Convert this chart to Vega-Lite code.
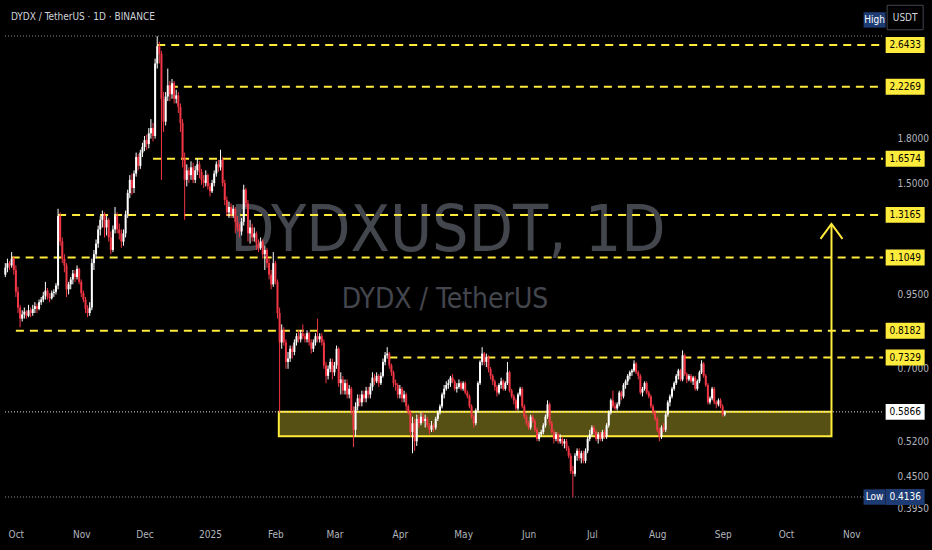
{
  "$schema": "https://vega.github.io/schema/vega-lite/v6.json",
  "width": 888,
  "height": 515,
  "autosize": {"type": "none"},
  "padding": {"left": 0, "top": 0, "right": 44, "bottom": 35},
  "background": "#000000",
  "config": {
    "view": {"stroke": null},
    "font": "Liberation Sans Narrow, DejaVu Sans Condensed, Roboto, sans-serif",
    "axis": {"grid": false, "domain": false, "ticks": false, "labelColor": "#b2b5be", "labelFontSize": 10, "title": null}
  },
  "datasets": {
    "candles": [
      {"date":"2024-09-26","open":1.03,"high":1.08,"low":1.02,"close":1.06},
      {"date":"2024-09-27","open":1.06,"high":1.10,"low":1.04,"close":1.08},
      {"date":"2024-09-28","open":1.08,"high":1.09,"low":1.05,"close":1.07},
      {"date":"2024-09-29","open":1.07,"high":1.13,"low":1.06,"close":1.10},
      {"date":"2024-09-30","open":1.10,"high":1.11,"low":1.03,"close":1.05},
      {"date":"2024-10-01","open":1.05,"high":1.07,"low":0.94,"close":0.96},
      {"date":"2024-10-02","open":0.96,"high":0.98,"low":0.88,"close":0.90},
      {"date":"2024-10-03","open":0.90,"high":0.91,"low":0.83,"close":0.86},
      {"date":"2024-10-04","open":0.86,"high":0.89,"low":0.85,"close":0.875},
      {"date":"2024-10-05","open":0.875,"high":0.90,"low":0.86,"close":0.885},
      {"date":"2024-10-06","open":0.885,"high":0.89,"low":0.86,"close":0.87},
      {"date":"2024-10-07","open":0.87,"high":0.91,"low":0.865,"close":0.89},
      {"date":"2024-10-08","open":0.89,"high":0.90,"low":0.865,"close":0.88},
      {"date":"2024-10-09","open":0.88,"high":0.91,"low":0.87,"close":0.895},
      {"date":"2024-10-10","open":0.895,"high":0.92,"low":0.88,"close":0.905},
      {"date":"2024-10-11","open":0.905,"high":0.915,"low":0.88,"close":0.895},
      {"date":"2024-10-12","open":0.895,"high":0.93,"low":0.89,"close":0.92},
      {"date":"2024-10-13","open":0.92,"high":0.94,"low":0.91,"close":0.93},
      {"date":"2024-10-14","open":0.93,"high":0.96,"low":0.92,"close":0.945},
      {"date":"2024-10-15","open":0.945,"high":1.00,"low":0.93,"close":0.965},
      {"date":"2024-10-16","open":0.965,"high":0.975,"low":0.93,"close":0.94},
      {"date":"2024-10-17","open":0.94,"high":0.955,"low":0.92,"close":0.935},
      {"date":"2024-10-18","open":0.935,"high":0.965,"low":0.93,"close":0.955},
      {"date":"2024-10-19","open":0.955,"high":0.97,"low":0.94,"close":0.96},
      {"date":"2024-10-20","open":0.96,"high":0.995,"low":0.95,"close":0.985},
      {"date":"2024-10-21","open":0.985,"high":1.35,"low":0.97,"close":1.31},
      {"date":"2024-10-22","open":1.31,"high":1.33,"low":1.16,"close":1.18},
      {"date":"2024-10-23","open":1.18,"high":1.20,"low":1.08,"close":1.10},
      {"date":"2024-10-24","open":1.10,"high":1.12,"low":1.04,"close":1.07},
      {"date":"2024-10-25","open":1.07,"high":1.08,"low":0.94,"close":0.97},
      {"date":"2024-10-26","open":0.97,"high":1.00,"low":0.95,"close":0.99},
      {"date":"2024-10-27","open":0.99,"high":1.02,"low":0.97,"close":1.01},
      {"date":"2024-10-28","open":1.01,"high":1.05,"low":0.99,"close":1.035},
      {"date":"2024-10-29","open":1.035,"high":1.05,"low":1.00,"close":1.02},
      {"date":"2024-10-30","open":1.02,"high":1.07,"low":1.01,"close":1.055},
      {"date":"2024-10-31","open":1.055,"high":1.06,"low":0.99,"close":1.00},
      {"date":"2024-11-01","open":1.00,"high":1.01,"low":0.94,"close":0.955},
      {"date":"2024-11-02","open":0.955,"high":0.965,"low":0.92,"close":0.93},
      {"date":"2024-11-03","open":0.93,"high":0.94,"low":0.88,"close":0.895},
      {"date":"2024-11-04","open":0.895,"high":0.91,"low":0.865,"close":0.88},
      {"date":"2024-11-05","open":0.88,"high":0.92,"low":0.87,"close":0.90},
      {"date":"2024-11-06","open":0.90,"high":1.10,"low":0.89,"close":1.08},
      {"date":"2024-11-07","open":1.08,"high":1.14,"low":1.05,"close":1.12},
      {"date":"2024-11-08","open":1.12,"high":1.19,"low":1.10,"close":1.17},
      {"date":"2024-11-09","open":1.17,"high":1.26,"low":1.15,"close":1.24},
      {"date":"2024-11-10","open":1.24,"high":1.31,"low":1.21,"close":1.29},
      {"date":"2024-11-11","open":1.29,"high":1.34,"low":1.25,"close":1.32},
      {"date":"2024-11-12","open":1.32,"high":1.33,"low":1.20,"close":1.25},
      {"date":"2024-11-13","open":1.25,"high":1.31,"low":1.21,"close":1.29},
      {"date":"2024-11-14","open":1.29,"high":1.30,"low":1.18,"close":1.20},
      {"date":"2024-11-15","open":1.20,"high":1.23,"low":1.12,"close":1.14},
      {"date":"2024-11-16","open":1.14,"high":1.26,"low":1.13,"close":1.24},
      {"date":"2024-11-17","open":1.24,"high":1.36,"low":1.22,"close":1.31},
      {"date":"2024-11-18","open":1.31,"high":1.33,"low":1.22,"close":1.24},
      {"date":"2024-11-19","open":1.24,"high":1.27,"low":1.19,"close":1.22},
      {"date":"2024-11-20","open":1.22,"high":1.24,"low":1.15,"close":1.18},
      {"date":"2024-11-21","open":1.18,"high":1.24,"low":1.16,"close":1.22},
      {"date":"2024-11-22","open":1.22,"high":1.34,"low":1.20,"close":1.32},
      {"date":"2024-11-23","open":1.32,"high":1.46,"low":1.30,"close":1.44},
      {"date":"2024-11-24","open":1.44,"high":1.55,"low":1.41,"close":1.52},
      {"date":"2024-11-25","open":1.52,"high":1.56,"low":1.43,"close":1.47},
      {"date":"2024-11-26","open":1.47,"high":1.58,"low":1.44,"close":1.56},
      {"date":"2024-11-27","open":1.56,"high":1.70,"low":1.54,"close":1.67},
      {"date":"2024-11-28","open":1.67,"high":1.69,"low":1.58,"close":1.61},
      {"date":"2024-11-29","open":1.61,"high":1.72,"low":1.59,"close":1.70},
      {"date":"2024-11-30","open":1.70,"high":1.77,"low":1.67,"close":1.74},
      {"date":"2024-12-01","open":1.74,"high":1.82,"low":1.71,"close":1.79},
      {"date":"2024-12-02","open":1.79,"high":1.83,"low":1.72,"close":1.76},
      {"date":"2024-12-03","open":1.76,"high":1.88,"low":1.73,"close":1.84},
      {"date":"2024-12-04","open":1.84,"high":1.95,"low":1.80,"close":1.88},
      {"date":"2024-12-05","open":1.88,"high":1.92,"low":1.78,"close":1.82},
      {"date":"2024-12-06","open":1.82,"high":2.50,"low":1.80,"close":2.45},
      {"date":"2024-12-07","open":2.45,"high":2.74,"low":2.40,"close":2.63},
      {"date":"2024-12-08","open":2.63,"high":2.68,"low":2.45,"close":2.55},
      {"date":"2024-12-09","open":2.55,"high":2.58,"low":1.52,"close":2.12},
      {"date":"2024-12-10","open":2.12,"high":2.18,"low":1.85,"close":1.93},
      {"date":"2024-12-11","open":1.93,"high":2.18,"low":1.90,"close":2.14},
      {"date":"2024-12-12","open":2.14,"high":2.40,"low":2.10,"close":2.24},
      {"date":"2024-12-13","open":2.24,"high":2.28,"low":2.10,"close":2.16},
      {"date":"2024-12-14","open":2.16,"high":2.30,"low":2.12,"close":2.26},
      {"date":"2024-12-15","open":2.26,"high":2.28,"low":2.08,"close":2.12},
      {"date":"2024-12-16","open":2.12,"high":2.20,"low":2.08,"close":2.15},
      {"date":"2024-12-17","open":2.15,"high":2.18,"low":2.00,"close":2.05},
      {"date":"2024-12-18","open":2.05,"high":2.08,"low":1.85,"close":1.92},
      {"date":"2024-12-19","open":1.92,"high":1.95,"low":1.60,"close":1.66},
      {"date":"2024-12-20","open":1.66,"high":1.70,"low":1.29,"close":1.52},
      {"date":"2024-12-21","open":1.52,"high":1.62,"low":1.48,"close":1.58},
      {"date":"2024-12-22","open":1.58,"high":1.60,"low":1.50,"close":1.55},
      {"date":"2024-12-23","open":1.55,"high":1.64,"low":1.52,"close":1.60},
      {"date":"2024-12-24","open":1.60,"high":1.63,"low":1.50,"close":1.52},
      {"date":"2024-12-25","open":1.52,"high":1.61,"low":1.50,"close":1.58},
      {"date":"2024-12-26","open":1.58,"high":1.66,"low":1.55,"close":1.62},
      {"date":"2024-12-27","open":1.62,"high":1.64,"low":1.53,"close":1.57},
      {"date":"2024-12-28","open":1.57,"high":1.59,"low":1.49,"close":1.52},
      {"date":"2024-12-29","open":1.52,"high":1.55,"low":1.47,"close":1.50},
      {"date":"2024-12-30","open":1.50,"high":1.58,"low":1.48,"close":1.55},
      {"date":"2024-12-31","open":1.55,"high":1.56,"low":1.46,"close":1.48},
      {"date":"2025-01-01","open":1.48,"high":1.50,"low":1.42,"close":1.45},
      {"date":"2025-01-02","open":1.45,"high":1.52,"low":1.44,"close":1.50},
      {"date":"2025-01-03","open":1.50,"high":1.58,"low":1.48,"close":1.56},
      {"date":"2025-01-04","open":1.56,"high":1.64,"low":1.54,"close":1.62},
      {"date":"2025-01-05","open":1.62,"high":1.65,"low":1.57,"close":1.60},
      {"date":"2025-01-06","open":1.60,"high":1.72,"low":1.58,"close":1.65},
      {"date":"2025-01-07","open":1.65,"high":1.67,"low":1.48,"close":1.50},
      {"date":"2025-01-08","open":1.50,"high":1.52,"low":1.37,"close":1.40},
      {"date":"2025-01-09","open":1.40,"high":1.42,"low":1.31,"close":1.33},
      {"date":"2025-01-10","open":1.33,"high":1.39,"low":1.30,"close":1.36},
      {"date":"2025-01-11","open":1.36,"high":1.38,"low":1.30,"close":1.32},
      {"date":"2025-01-12","open":1.32,"high":1.37,"low":1.30,"close":1.35},
      {"date":"2025-01-13","open":1.35,"high":1.36,"low":1.22,"close":1.28},
      {"date":"2025-01-14","open":1.28,"high":1.31,"low":1.23,"close":1.25},
      {"date":"2025-01-15","open":1.25,"high":1.27,"low":1.20,"close":1.23},
      {"date":"2025-01-16","open":1.23,"high":1.30,"low":1.21,"close":1.28},
      {"date":"2025-01-17","open":1.28,"high":1.49,"low":1.26,"close":1.46},
      {"date":"2025-01-18","open":1.46,"high":1.47,"low":1.36,"close":1.38},
      {"date":"2025-01-19","open":1.38,"high":1.40,"low":1.18,"close":1.22},
      {"date":"2025-01-20","open":1.22,"high":1.29,"low":1.17,"close":1.25},
      {"date":"2025-01-21","open":1.25,"high":1.27,"low":1.18,"close":1.20},
      {"date":"2025-01-22","open":1.20,"high":1.25,"low":1.18,"close":1.22},
      {"date":"2025-01-23","open":1.22,"high":1.23,"low":1.14,"close":1.17},
      {"date":"2025-01-24","open":1.17,"high":1.19,"low":1.13,"close":1.15},
      {"date":"2025-01-25","open":1.15,"high":1.20,"low":1.14,"close":1.18},
      {"date":"2025-01-26","open":1.18,"high":1.19,"low":1.10,"close":1.12},
      {"date":"2025-01-27","open":1.12,"high":1.16,"low":1.05,"close":1.14},
      {"date":"2025-01-28","open":1.14,"high":1.15,"low":1.06,"close":1.08},
      {"date":"2025-01-29","open":1.08,"high":1.10,"low":1.01,"close":1.03},
      {"date":"2025-01-30","open":1.03,"high":1.05,"low":0.97,"close":0.99},
      {"date":"2025-01-31","open":0.99,"high":1.13,"low":0.98,"close":1.08},
      {"date":"2025-02-01","open":1.08,"high":1.09,"low":0.99,"close":1.00},
      {"date":"2025-02-02","open":1.00,"high":1.01,"low":0.86,"close":0.88},
      {"date":"2025-02-03","open":0.88,"high":0.90,"low":0.585,"close":0.78},
      {"date":"2025-02-04","open":0.78,"high":0.84,"low":0.76,"close":0.82},
      {"date":"2025-02-05","open":0.82,"high":0.83,"low":0.77,"close":0.78},
      {"date":"2025-02-06","open":0.78,"high":0.79,"low":0.70,"close":0.72},
      {"date":"2025-02-07","open":0.72,"high":0.75,"low":0.70,"close":0.73},
      {"date":"2025-02-08","open":0.73,"high":0.77,"low":0.72,"close":0.76},
      {"date":"2025-02-09","open":0.76,"high":0.77,"low":0.73,"close":0.75},
      {"date":"2025-02-10","open":0.75,"high":0.79,"low":0.74,"close":0.78},
      {"date":"2025-02-11","open":0.78,"high":0.81,"low":0.77,"close":0.80},
      {"date":"2025-02-12","open":0.80,"high":0.82,"low":0.78,"close":0.79},
      {"date":"2025-02-13","open":0.79,"high":0.82,"low":0.78,"close":0.81},
      {"date":"2025-02-14","open":0.81,"high":0.84,"low":0.79,"close":0.80},
      {"date":"2025-02-15","open":0.80,"high":0.81,"low":0.78,"close":0.79},
      {"date":"2025-02-16","open":0.79,"high":0.82,"low":0.78,"close":0.81},
      {"date":"2025-02-17","open":0.81,"high":0.815,"low":0.77,"close":0.78},
      {"date":"2025-02-18","open":0.78,"high":0.79,"low":0.745,"close":0.76},
      {"date":"2025-02-19","open":0.76,"high":0.79,"low":0.75,"close":0.78},
      {"date":"2025-02-20","open":0.78,"high":0.81,"low":0.77,"close":0.80},
      {"date":"2025-02-21","open":0.80,"high":0.86,"low":0.78,"close":0.79},
      {"date":"2025-02-22","open":0.79,"high":0.81,"low":0.78,"close":0.80},
      {"date":"2025-02-23","open":0.80,"high":0.81,"low":0.77,"close":0.78},
      {"date":"2025-02-24","open":0.78,"high":0.79,"low":0.70,"close":0.71},
      {"date":"2025-02-25","open":0.71,"high":0.72,"low":0.66,"close":0.68},
      {"date":"2025-02-26","open":0.68,"high":0.71,"low":0.67,"close":0.70},
      {"date":"2025-02-27","open":0.70,"high":0.73,"low":0.69,"close":0.72},
      {"date":"2025-02-28","open":0.72,"high":0.73,"low":0.67,"close":0.69},
      {"date":"2025-03-01","open":0.69,"high":0.72,"low":0.68,"close":0.71},
      {"date":"2025-03-02","open":0.71,"high":0.77,"low":0.70,"close":0.76},
      {"date":"2025-03-03","open":0.76,"high":0.765,"low":0.65,"close":0.66},
      {"date":"2025-03-04","open":0.66,"high":0.69,"low":0.63,"close":0.67},
      {"date":"2025-03-05","open":0.67,"high":0.68,"low":0.63,"close":0.64},
      {"date":"2025-03-06","open":0.64,"high":0.67,"low":0.63,"close":0.66},
      {"date":"2025-03-07","open":0.66,"high":0.67,"low":0.62,"close":0.63},
      {"date":"2025-03-08","open":0.63,"high":0.655,"low":0.62,"close":0.645},
      {"date":"2025-03-09","open":0.645,"high":0.65,"low":0.58,"close":0.59},
      {"date":"2025-03-10","open":0.59,"high":0.60,"low":0.508,"close":0.545},
      {"date":"2025-03-11","open":0.545,"high":0.61,"low":0.53,"close":0.60},
      {"date":"2025-03-12","open":0.60,"high":0.63,"low":0.59,"close":0.62},
      {"date":"2025-03-13","open":0.62,"high":0.63,"low":0.60,"close":0.61},
      {"date":"2025-03-14","open":0.61,"high":0.64,"low":0.60,"close":0.63},
      {"date":"2025-03-15","open":0.63,"high":0.64,"low":0.61,"close":0.62},
      {"date":"2025-03-16","open":0.62,"high":0.65,"low":0.61,"close":0.64},
      {"date":"2025-03-17","open":0.64,"high":0.65,"low":0.62,"close":0.63},
      {"date":"2025-03-18","open":0.63,"high":0.66,"low":0.62,"close":0.65},
      {"date":"2025-03-19","open":0.65,"high":0.69,"low":0.64,"close":0.675},
      {"date":"2025-03-20","open":0.675,"high":0.685,"low":0.655,"close":0.665},
      {"date":"2025-03-21","open":0.665,"high":0.69,"low":0.66,"close":0.68},
      {"date":"2025-03-22","open":0.68,"high":0.685,"low":0.65,"close":0.66},
      {"date":"2025-03-23","open":0.66,"high":0.69,"low":0.655,"close":0.68},
      {"date":"2025-03-24","open":0.68,"high":0.73,"low":0.675,"close":0.72},
      {"date":"2025-03-25","open":0.72,"high":0.75,"low":0.71,"close":0.74},
      {"date":"2025-03-26","open":0.74,"high":0.765,"low":0.73,"close":0.745},
      {"date":"2025-03-27","open":0.745,"high":0.75,"low":0.70,"close":0.71},
      {"date":"2025-03-28","open":0.71,"high":0.715,"low":0.68,"close":0.69},
      {"date":"2025-03-29","open":0.69,"high":0.695,"low":0.65,"close":0.66},
      {"date":"2025-03-30","open":0.66,"high":0.67,"low":0.64,"close":0.655},
      {"date":"2025-03-31","open":0.655,"high":0.66,"low":0.62,"close":0.63},
      {"date":"2025-04-01","open":0.63,"high":0.655,"low":0.62,"close":0.645},
      {"date":"2025-04-02","open":0.645,"high":0.65,"low":0.61,"close":0.62},
      {"date":"2025-04-03","open":0.62,"high":0.64,"low":0.61,"close":0.63},
      {"date":"2025-04-04","open":0.63,"high":0.635,"low":0.59,"close":0.60},
      {"date":"2025-04-05","open":0.60,"high":0.605,"low":0.58,"close":0.585},
      {"date":"2025-04-06","open":0.585,"high":0.59,"low":0.53,"close":0.54},
      {"date":"2025-04-07","open":0.54,"high":0.575,"low":0.495,"close":0.56},
      {"date":"2025-04-08","open":0.56,"high":0.57,"low":0.50,"close":0.52},
      {"date":"2025-04-09","open":0.52,"high":0.58,"low":0.51,"close":0.57},
      {"date":"2025-04-10","open":0.57,"high":0.58,"low":0.55,"close":0.56},
      {"date":"2025-04-11","open":0.56,"high":0.585,"low":0.555,"close":0.575},
      {"date":"2025-04-12","open":0.575,"high":0.585,"low":0.56,"close":0.565},
      {"date":"2025-04-13","open":0.565,"high":0.58,"low":0.55,"close":0.57},
      {"date":"2025-04-14","open":0.57,"high":0.575,"low":0.55,"close":0.555},
      {"date":"2025-04-15","open":0.555,"high":0.56,"low":0.535,"close":0.545},
      {"date":"2025-04-16","open":0.545,"high":0.565,"low":0.54,"close":0.555},
      {"date":"2025-04-17","open":0.555,"high":0.56,"low":0.54,"close":0.55},
      {"date":"2025-04-18","open":0.55,"high":0.575,"low":0.545,"close":0.57},
      {"date":"2025-04-19","open":0.57,"high":0.59,"low":0.565,"close":0.585},
      {"date":"2025-04-20","open":0.585,"high":0.605,"low":0.58,"close":0.60},
      {"date":"2025-04-21","open":0.60,"high":0.635,"low":0.595,"close":0.63},
      {"date":"2025-04-22","open":0.63,"high":0.655,"low":0.62,"close":0.645},
      {"date":"2025-04-23","open":0.645,"high":0.665,"low":0.64,"close":0.655},
      {"date":"2025-04-24","open":0.655,"high":0.67,"low":0.645,"close":0.66},
      {"date":"2025-04-25","open":0.66,"high":0.68,"low":0.65,"close":0.675},
      {"date":"2025-04-26","open":0.675,"high":0.685,"low":0.66,"close":0.665},
      {"date":"2025-04-27","open":0.665,"high":0.67,"low":0.64,"close":0.645},
      {"date":"2025-04-28","open":0.645,"high":0.66,"low":0.635,"close":0.65},
      {"date":"2025-04-29","open":0.65,"high":0.67,"low":0.645,"close":0.66},
      {"date":"2025-04-30","open":0.66,"high":0.665,"low":0.64,"close":0.645},
      {"date":"2025-05-01","open":0.645,"high":0.665,"low":0.64,"close":0.66},
      {"date":"2025-05-02","open":0.66,"high":0.665,"low":0.63,"close":0.635},
      {"date":"2025-05-03","open":0.635,"high":0.64,"low":0.62,"close":0.625},
      {"date":"2025-05-04","open":0.625,"high":0.63,"low":0.595,"close":0.60},
      {"date":"2025-05-05","open":0.60,"high":0.605,"low":0.57,"close":0.575},
      {"date":"2025-05-06","open":0.575,"high":0.58,"low":0.55,"close":0.56},
      {"date":"2025-05-07","open":0.56,"high":0.595,"low":0.555,"close":0.59},
      {"date":"2025-05-08","open":0.59,"high":0.665,"low":0.585,"close":0.66},
      {"date":"2025-05-09","open":0.66,"high":0.725,"low":0.655,"close":0.72},
      {"date":"2025-05-10","open":0.72,"high":0.765,"low":0.71,"close":0.745},
      {"date":"2025-05-11","open":0.745,"high":0.75,"low":0.71,"close":0.72},
      {"date":"2025-05-12","open":0.72,"high":0.745,"low":0.705,"close":0.735},
      {"date":"2025-05-13","open":0.735,"high":0.74,"low":0.69,"close":0.70},
      {"date":"2025-05-14","open":0.70,"high":0.705,"low":0.67,"close":0.68},
      {"date":"2025-05-15","open":0.68,"high":0.685,"low":0.655,"close":0.665},
      {"date":"2025-05-16","open":0.665,"high":0.67,"low":0.64,"close":0.65},
      {"date":"2025-05-17","open":0.65,"high":0.655,"low":0.625,"close":0.635},
      {"date":"2025-05-18","open":0.635,"high":0.66,"low":0.63,"close":0.655},
      {"date":"2025-05-19","open":0.655,"high":0.675,"low":0.645,"close":0.665},
      {"date":"2025-05-20","open":0.665,"high":0.67,"low":0.64,"close":0.645},
      {"date":"2025-05-21","open":0.645,"high":0.665,"low":0.64,"close":0.66},
      {"date":"2025-05-22","open":0.66,"high":0.72,"low":0.655,"close":0.69},
      {"date":"2025-05-23","open":0.69,"high":0.695,"low":0.635,"close":0.64},
      {"date":"2025-05-24","open":0.64,"high":0.645,"low":0.62,"close":0.625},
      {"date":"2025-05-25","open":0.625,"high":0.63,"low":0.605,"close":0.615},
      {"date":"2025-05-26","open":0.615,"high":0.62,"low":0.59,"close":0.595},
      {"date":"2025-05-27","open":0.595,"high":0.635,"low":0.59,"close":0.63},
      {"date":"2025-05-28","open":0.63,"high":0.65,"low":0.625,"close":0.645},
      {"date":"2025-05-29","open":0.645,"high":0.65,"low":0.595,"close":0.60},
      {"date":"2025-05-30","open":0.60,"high":0.605,"low":0.57,"close":0.575},
      {"date":"2025-05-31","open":0.575,"high":0.58,"low":0.555,"close":0.56},
      {"date":"2025-06-01","open":0.56,"high":0.565,"low":0.545,"close":0.55},
      {"date":"2025-06-02","open":0.55,"high":0.58,"low":0.545,"close":0.575},
      {"date":"2025-06-03","open":0.575,"high":0.58,"low":0.56,"close":0.565},
      {"date":"2025-06-04","open":0.565,"high":0.57,"low":0.54,"close":0.545},
      {"date":"2025-06-05","open":0.545,"high":0.55,"low":0.52,"close":0.525},
      {"date":"2025-06-06","open":0.525,"high":0.54,"low":0.52,"close":0.535},
      {"date":"2025-06-07","open":0.535,"high":0.545,"low":0.53,"close":0.54},
      {"date":"2025-06-08","open":0.54,"high":0.56,"low":0.535,"close":0.555},
      {"date":"2025-06-09","open":0.555,"high":0.58,"low":0.55,"close":0.575},
      {"date":"2025-06-10","open":0.575,"high":0.615,"low":0.57,"close":0.605},
      {"date":"2025-06-11","open":0.605,"high":0.61,"low":0.555,"close":0.56},
      {"date":"2025-06-12","open":0.56,"high":0.565,"low":0.535,"close":0.54},
      {"date":"2025-06-13","open":0.54,"high":0.545,"low":0.515,"close":0.525},
      {"date":"2025-06-14","open":0.525,"high":0.54,"low":0.52,"close":0.535},
      {"date":"2025-06-15","open":0.535,"high":0.54,"low":0.515,"close":0.52},
      {"date":"2025-06-16","open":0.52,"high":0.535,"low":0.515,"close":0.525},
      {"date":"2025-06-17","open":0.525,"high":0.53,"low":0.51,"close":0.515},
      {"date":"2025-06-18","open":0.515,"high":0.525,"low":0.505,"close":0.52},
      {"date":"2025-06-19","open":0.52,"high":0.525,"low":0.50,"close":0.505},
      {"date":"2025-06-20","open":0.505,"high":0.51,"low":0.485,"close":0.49},
      {"date":"2025-06-21","open":0.49,"high":0.495,"low":0.455,"close":0.46},
      {"date":"2025-06-22","open":0.46,"high":0.47,"low":0.4136,"close":0.455},
      {"date":"2025-06-23","open":0.455,"high":0.495,"low":0.45,"close":0.49},
      {"date":"2025-06-24","open":0.49,"high":0.505,"low":0.48,"close":0.50},
      {"date":"2025-06-25","open":0.50,"high":0.505,"low":0.48,"close":0.485},
      {"date":"2025-06-26","open":0.485,"high":0.50,"low":0.475,"close":0.495},
      {"date":"2025-06-27","open":0.495,"high":0.50,"low":0.475,"close":0.48},
      {"date":"2025-06-28","open":0.48,"high":0.505,"low":0.475,"close":0.50},
      {"date":"2025-06-29","open":0.50,"high":0.53,"low":0.495,"close":0.525},
      {"date":"2025-06-30","open":0.525,"high":0.545,"low":0.52,"close":0.535},
      {"date":"2025-07-01","open":0.535,"high":0.555,"low":0.53,"close":0.55},
      {"date":"2025-07-02","open":0.55,"high":0.555,"low":0.535,"close":0.54},
      {"date":"2025-07-03","open":0.54,"high":0.545,"low":0.52,"close":0.525},
      {"date":"2025-07-04","open":0.525,"high":0.54,"low":0.515,"close":0.535},
      {"date":"2025-07-05","open":0.535,"high":0.54,"low":0.52,"close":0.525},
      {"date":"2025-07-06","open":0.525,"high":0.545,"low":0.52,"close":0.54},
      {"date":"2025-07-07","open":0.54,"high":0.545,"low":0.525,"close":0.53},
      {"date":"2025-07-08","open":0.53,"high":0.56,"low":0.525,"close":0.555},
      {"date":"2025-07-09","open":0.555,"high":0.59,"low":0.55,"close":0.585},
      {"date":"2025-07-10","open":0.585,"high":0.62,"low":0.58,"close":0.615},
      {"date":"2025-07-11","open":0.615,"high":0.64,"low":0.595,"close":0.60},
      {"date":"2025-07-12","open":0.60,"high":0.61,"low":0.59,"close":0.595},
      {"date":"2025-07-13","open":0.595,"high":0.61,"low":0.59,"close":0.605},
      {"date":"2025-07-14","open":0.605,"high":0.64,"low":0.60,"close":0.635},
      {"date":"2025-07-15","open":0.635,"high":0.64,"low":0.615,"close":0.625},
      {"date":"2025-07-16","open":0.625,"high":0.66,"low":0.62,"close":0.655},
      {"date":"2025-07-17","open":0.655,"high":0.67,"low":0.645,"close":0.665},
      {"date":"2025-07-18","open":0.665,"high":0.685,"low":0.655,"close":0.68},
      {"date":"2025-07-19","open":0.68,"high":0.695,"low":0.67,"close":0.69},
      {"date":"2025-07-20","open":0.69,"high":0.70,"low":0.68,"close":0.695},
      {"date":"2025-07-21","open":0.695,"high":0.725,"low":0.69,"close":0.715},
      {"date":"2025-07-22","open":0.715,"high":0.72,"low":0.685,"close":0.69},
      {"date":"2025-07-23","open":0.69,"high":0.695,"low":0.67,"close":0.68},
      {"date":"2025-07-24","open":0.68,"high":0.685,"low":0.63,"close":0.635},
      {"date":"2025-07-25","open":0.635,"high":0.65,"low":0.625,"close":0.645},
      {"date":"2025-07-26","open":0.645,"high":0.665,"low":0.64,"close":0.66},
      {"date":"2025-07-27","open":0.66,"high":0.665,"low":0.63,"close":0.635},
      {"date":"2025-07-28","open":0.635,"high":0.64,"low":0.62,"close":0.625},
      {"date":"2025-07-29","open":0.625,"high":0.63,"low":0.595,"close":0.60},
      {"date":"2025-07-30","open":0.60,"high":0.605,"low":0.58,"close":0.585},
      {"date":"2025-07-31","open":0.585,"high":0.59,"low":0.565,"close":0.57},
      {"date":"2025-08-01","open":0.57,"high":0.575,"low":0.54,"close":0.545},
      {"date":"2025-08-02","open":0.545,"high":0.55,"low":0.52,"close":0.53},
      {"date":"2025-08-03","open":0.53,"high":0.555,"low":0.525,"close":0.55},
      {"date":"2025-08-04","open":0.55,"high":0.56,"low":0.54,"close":0.545},
      {"date":"2025-08-05","open":0.545,"high":0.585,"low":0.54,"close":0.58},
      {"date":"2025-08-06","open":0.58,"high":0.615,"low":0.575,"close":0.61},
      {"date":"2025-08-07","open":0.61,"high":0.63,"low":0.60,"close":0.625},
      {"date":"2025-08-08","open":0.625,"high":0.65,"low":0.62,"close":0.645},
      {"date":"2025-08-09","open":0.645,"high":0.665,"low":0.64,"close":0.66},
      {"date":"2025-08-10","open":0.66,"high":0.685,"low":0.655,"close":0.68},
      {"date":"2025-08-11","open":0.68,"high":0.70,"low":0.67,"close":0.695},
      {"date":"2025-08-12","open":0.695,"high":0.70,"low":0.665,"close":0.67},
      {"date":"2025-08-13","open":0.67,"high":0.755,"low":0.665,"close":0.74},
      {"date":"2025-08-14","open":0.74,"high":0.745,"low":0.68,"close":0.685},
      {"date":"2025-08-15","open":0.685,"high":0.69,"low":0.66,"close":0.67},
      {"date":"2025-08-16","open":0.67,"high":0.685,"low":0.665,"close":0.68},
      {"date":"2025-08-17","open":0.68,"high":0.685,"low":0.66,"close":0.665},
      {"date":"2025-08-18","open":0.665,"high":0.68,"low":0.655,"close":0.675},
      {"date":"2025-08-19","open":0.675,"high":0.68,"low":0.64,"close":0.645},
      {"date":"2025-08-20","open":0.645,"high":0.67,"low":0.64,"close":0.665},
      {"date":"2025-08-21","open":0.665,"high":0.695,"low":0.66,"close":0.69},
      {"date":"2025-08-22","open":0.69,"high":0.725,"low":0.685,"close":0.715},
      {"date":"2025-08-23","open":0.715,"high":0.72,"low":0.675,"close":0.68},
      {"date":"2025-08-24","open":0.68,"high":0.685,"low":0.65,"close":0.655},
      {"date":"2025-08-25","open":0.655,"high":0.66,"low":0.605,"close":0.61},
      {"date":"2025-08-26","open":0.61,"high":0.625,"low":0.605,"close":0.62},
      {"date":"2025-08-27","open":0.62,"high":0.65,"low":0.615,"close":0.645},
      {"date":"2025-08-28","open":0.645,"high":0.65,"low":0.605,"close":0.61},
      {"date":"2025-08-29","open":0.61,"high":0.615,"low":0.595,"close":0.605},
      {"date":"2025-08-30","open":0.605,"high":0.62,"low":0.60,"close":0.615},
      {"date":"2025-08-31","open":0.615,"high":0.62,"low":0.595,"close":0.60},
      {"date":"2025-09-01","open":0.60,"high":0.605,"low":0.575,"close":0.58},
      {"date":"2025-09-02","open":0.58,"high":0.59,"low":0.576,"close":0.5866}
    ],
    "levels": [
      {"price":2.6433,"start":"2024-12-07"},
      {"price":2.2269,"start":"2024-12-13"},
      {"price":1.6574,"start":"2024-12-05"},
      {"price":1.3165,"start":"2024-10-21"},
      {"price":1.1049,"start":"2024-09-29"},
      {"price":0.8182,"start":"2024-10-01"},
      {"price":0.7329,"start":"2025-03-27"}
    ],
    "markers": [
      {"kind":"high","price":2.743},
      {"kind":"last","price":0.5866},
      {"kind":"low","price":0.4136}
    ],
    "tags": [
      {"label":"2.6433","price":2.6433,"kind":"level"},
      {"label":"2.2269","price":2.2269,"kind":"level"},
      {"label":"1.6574","price":1.6574,"kind":"level"},
      {"label":"1.3165","price":1.3165,"kind":"level"},
      {"label":"1.1049","price":1.1049,"kind":"level"},
      {"label":"0.8182","price":0.8182,"kind":"level"},
      {"label":"0.7329","price":0.7329,"kind":"level"},
      {"label":"0.5866","price":0.5866,"kind":"last"},
      {"label":"0.4136","price":0.4136,"kind":"low"}
    ]
  },
  "layer": [
    {
      "data": {"values": [{"label": "DYDXUSDT, 1D"}]},
      "mark": {"type": "text", "fontSize": 64, "color": "#44464e", "align": "center", "baseline": "middle"},
      "encoding": {
        "x": {"datum": {"year": 2025, "month": 4, "date": 23, "hours": 19, "utc": true}, "type": "temporal"},
        "y": {"datum": 1.227, "type": "quantitative"},
        "text": {"field": "label"}
      }
    },
    {
      "data": {"values": [{"label": "DYDX / TetherUS"}]},
      "mark": {"type": "text", "fontSize": 28, "color": "#44464e", "align": "center", "baseline": "middle"},
      "encoding": {
        "x": {"datum": {"year": 2025, "month": 4, "date": 22, "hours": 10, "utc": true}, "type": "temporal"},
        "y": {"datum": 0.928, "type": "quantitative"},
        "text": {"field": "label"}
      }
    },
    {
      "data": {"values": [{"label": "DYDX / TetherUS · 1D · BINANCE"}]},
      "mark": {"type": "text", "fontSize": 10, "color": "#d1d4dc", "align": "left", "baseline": "middle"},
      "encoding": {
        "x": {"datum": {"year": 2024, "month": 9, "date": 28, "hours": 16, "utc": true}, "type": "temporal"},
        "y": {"datum": 2.965, "type": "quantitative"},
        "text": {"field": "label"}
      }
    },
    {
      "data": {"values": [{"from": "2025-02-02T15:00:00Z", "to": "2025-10-22T14:00:00Z", "top": 0.587, "bottom": 0.531}]},
      "mark": {"type": "rect", "fill": "#ffeb3b", "fillOpacity": 0.34, "stroke": "#ffeb3b", "strokeWidth": 2},
      "encoding": {
        "x": {"field": "from", "type": "temporal"},
        "x2": {"field": "to"},
        "y": {"field": "top", "type": "quantitative"},
        "y2": {"field": "bottom"}
      }
    },
    {
      "data": {"name": "markers"},
      "mark": {"type": "rule", "strokeWidth": 1, "strokeDash": [1, 2]},
      "encoding": {
        "x": {"datum": {"year": 2024, "month": 9, "date": 25, "hours": 20, "minutes": 17, "utc": true}, "type": "temporal"},
        "x2": {"datum": {"year": 2025, "month": 11, "date": 16, "utc": true}},
        "y": {"field": "price", "type": "quantitative"},
        "color": {"condition": {"test": "datum.kind === 'last'", "value": "#d8d8d8"}, "value": "#8a8d96"}
      }
    },
    {
      "data": {"name": "levels"},
      "mark": {"type": "rule", "strokeWidth": 2, "strokeDash": [8, 6], "color": "#ffeb3b"},
      "encoding": {
        "x": {"field": "start", "type": "temporal"},
        "x2": {"datum": {"year": 2025, "month": 11, "date": 16, "utc": true}},
        "y": {"field": "price", "type": "quantitative"}
      }
    },
    {
      "data": {"name": "candles"},
      "mark": {"type": "rule", "strokeWidth": 1},
      "encoding": {
        "x": {"field": "date", "type": "temporal"},
        "y": {"field": "low", "type": "quantitative"},
        "y2": {"field": "high"},
        "color": {"condition": {"test": "datum.close >= datum.open", "value": "#ffffff"}, "value": "#f23645"}
      }
    },
    {
      "data": {"name": "candles"},
      "mark": {"type": "bar", "width": 2},
      "encoding": {
        "x": {
          "field": "date", "type": "temporal",
          "scale": {"type": "utc", "nice": false, "domain": [{"year": 2024, "month": 9, "date": 25, "hours": 20, "minutes": 17, "utc": true}, {"year": 2025, "month": 11, "date": 16, "utc": true}]},
          "axis": {
            "values": [
              {"year": 2024, "month": 10, "date": 1, "utc": true},
              {"year": 2024, "month": 11, "date": 1, "utc": true},
              {"year": 2024, "month": 12, "date": 1, "utc": true},
              {"year": 2025, "month": 1, "date": 1, "utc": true},
              {"year": 2025, "month": 2, "date": 1, "utc": true},
              {"year": 2025, "month": 3, "date": 1, "utc": true},
              {"year": 2025, "month": 4, "date": 1, "utc": true},
              {"year": 2025, "month": 5, "date": 1, "utc": true},
              {"year": 2025, "month": 6, "date": 1, "utc": true},
              {"year": 2025, "month": 7, "date": 1, "utc": true},
              {"year": 2025, "month": 8, "date": 1, "utc": true},
              {"year": 2025, "month": 9, "date": 1, "utc": true},
              {"year": 2025, "month": 10, "date": 1, "utc": true},
              {"year": 2025, "month": 11, "date": 1, "utc": true}
            ],
            "labelExpr": "utcmonth(datum.value) === 0 ? utcFormat(datum.value, '%Y') : utcFormat(datum.value, '%b')",
            "labelPadding": 14,
            "labelFlush": false,
            "labelOverlap": false
          }
        },
        "y": {
          "field": "open", "type": "quantitative",
          "scale": {"type": "log", "domain": [0.3842, 3.1795], "nice": false, "zero": false},
          "axis": {"orient": "right", "values": [1.8, 1.5, 0.95, 0.7, 0.52, 0.45, 0.395], "format": ".4f", "labelPadding": 9, "labelBaseline": "middle"}
        },
        "y2": {"field": "close"},
        "color": {"condition": {"test": "datum.close >= datum.open", "value": "#ffffff"}, "value": "#f23645"}
      }
    },
    {
      "data": {"values": [{"date": "2025-10-22T14:00:00Z", "from": 0.587, "to": 1.262}]},
      "mark": {"type": "rule", "strokeWidth": 2, "color": "#ffeb3b"},
      "encoding": {
        "x": {"field": "date", "type": "temporal"},
        "y": {"field": "from", "type": "quantitative"},
        "y2": {"field": "to"}
      }
    },
    {
      "data": {"values": [{"date": "2025-10-22T14:00:00Z", "tip": 1.268}]},
      "mark": {"type": "point", "shape": "M-1,1.35L0,0L1,1.35", "filled": false, "size": 484, "stroke": "#ffeb3b", "strokeWidth": 2, "opacity": 1},
      "encoding": {
        "x": {"field": "date", "type": "temporal"},
        "y": {"field": "tip", "type": "quantitative"}
      }
    },
    {
      "data": {"name": "tags"},
      "mark": {"type": "point", "shape": "M-1,-0.41H1V0.41H-1Z", "filled": true, "size": 1521, "opacity": 1, "strokeWidth": 0},
      "encoding": {
        "x": {"datum": {"year": 2025, "month": 11, "date": 26, "hours": 12, "utc": true}, "type": "temporal"},
        "y": {"field": "price", "type": "quantitative"},
        "fill": {"field": "kind", "type": "nominal", "scale": {"domain": ["level", "last", "low"], "range": ["#ffeb3b", "#ffffff", "#1e3c74"]}, "legend": null}
      }
    },
    {
      "data": {"name": "tags"},
      "mark": {"type": "text", "fontSize": 10, "align": "center", "baseline": "middle"},
      "encoding": {
        "x": {"datum": {"year": 2025, "month": 11, "date": 26, "hours": 12, "utc": true}, "type": "temporal"},
        "y": {"field": "price", "type": "quantitative"},
        "text": {"field": "label"},
        "color": {"condition": {"test": "datum.kind === 'low'", "value": "#ffffff"}, "value": "#000000"}
      }
    },
    {
      "data": {"values": [{"label": "High", "price": 2.93}, {"label": "Low", "price": 0.4136}]},
      "mark": {"type": "point", "shape": "M-1,-0.7H1V0.7H-1Z", "filled": true, "size": 484, "opacity": 1, "color": "#1e3c74", "strokeWidth": 0},
      "encoding": {
        "x": {"datum": {"year": 2025, "month": 11, "date": 12, "utc": true}, "type": "temporal"},
        "y": {"field": "price", "type": "quantitative"}
      }
    },
    {
      "data": {"values": [{"label": "High", "price": 2.93}, {"label": "Low", "price": 0.4136}]},
      "mark": {"type": "text", "fontSize": 10, "align": "center", "baseline": "middle", "color": "#ffffff"},
      "encoding": {
        "x": {"datum": {"year": 2025, "month": 11, "date": 12, "utc": true}, "type": "temporal"},
        "y": {"field": "price", "type": "quantitative"},
        "text": {"field": "label"}
      }
    },
    {
      "data": {"values": [{"label": "USDT", "price": 2.959}]},
      "mark": {"type": "point", "shape": "M-1,-0.68H1V0.68H-1Z", "filled": false, "size": 1296, "opacity": 1, "stroke": "#434651", "strokeWidth": 1},
      "encoding": {
        "x": {"datum": {"year": 2025, "month": 11, "date": 26, "hours": 12, "utc": true}, "type": "temporal"},
        "y": {"field": "price", "type": "quantitative"}
      }
    },
    {
      "data": {"values": [{"label": "USDT", "price": 2.959}]},
      "mark": {"type": "text", "fontSize": 10, "align": "center", "baseline": "middle", "color": "#d1d4dc"},
      "encoding": {
        "x": {"datum": {"year": 2025, "month": 11, "date": 26, "hours": 12, "utc": true}, "type": "temporal"},
        "y": {"field": "price", "type": "quantitative"},
        "text": {"field": "label"}
      }
    }
  ]
}
